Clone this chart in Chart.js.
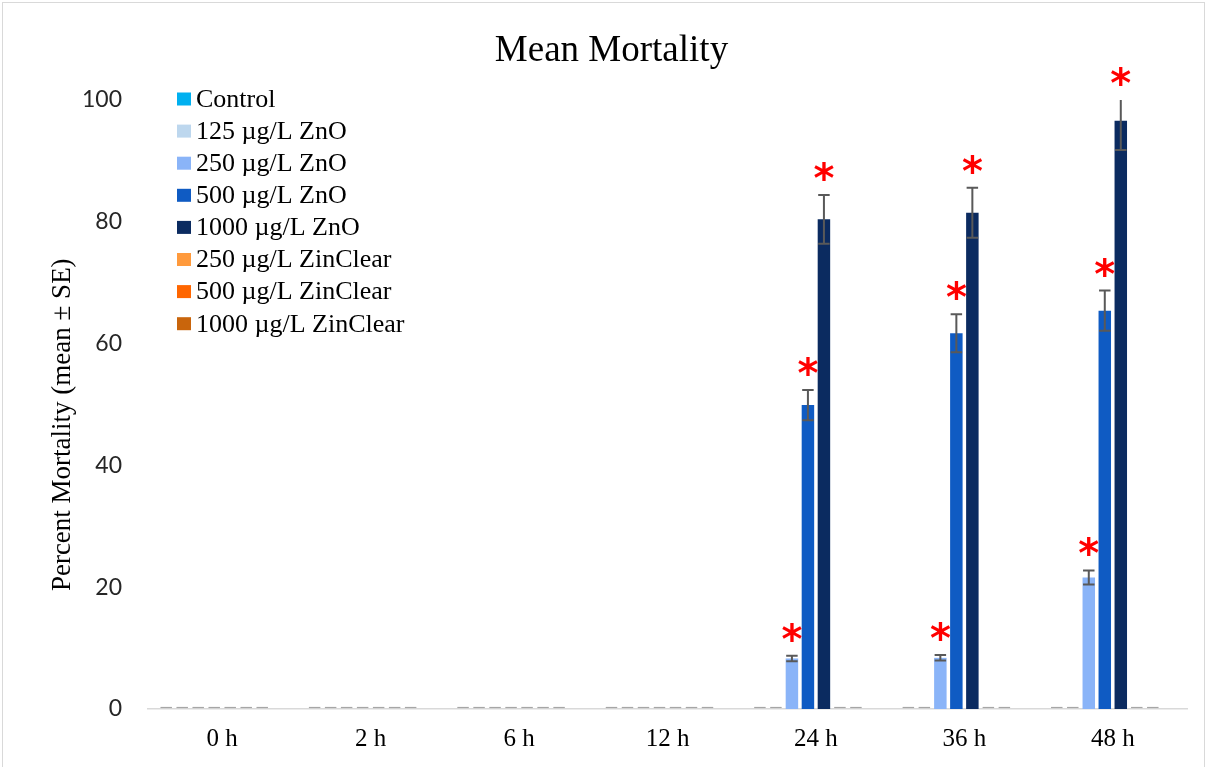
<!DOCTYPE html>
<html>
<head>
<meta charset="utf-8">
<title>Mean Mortality</title>
<script src="https://cdn.jsdelivr.net/npm/chart.js@4.4.1/dist/chart.umd.min.js"></script>
<style>
  html, body { margin: 0; padding: 0; background: #fff; }
  #wrap { width: 1207px; height: 767px; position: relative; }
</style>
</head>
<body>
<div id="wrap"><canvas id="mortality-chart"></canvas></div>
<script>
// exposure time points
const timepoints = ["0 h", "2 h", "6 h", "12 h", "24 h", "36 h", "48 h"];

const treatments = [
    "Control",
    "125 µg/L ZnO",
    "250 µg/L ZnO",
    "500 µg/L ZnO",
    "1000 µg/L ZnO",
    "250 µg/L ZinClear",
    "500 µg/L ZinClear",
    "1000 µg/L ZinClear",
];
const treatmentColors = ["#00b0f0", "#bdd7ee", "#8ab4f8", "#0f5bc3", "#0b2b60", "#ff9a3c", "#ff6600", "#c9650c"];

// mean percent mortality
const control = [0, 0, 0, 0, 0, 0, 0];
const zno125 = [0, 0, 0, 0, 0, 0, 0];
const zno250 = [0, 0, 0, 0, 8.3, 8.4, 21.6];
const zno500 = [0, 0, 0, 0, 49.9, 61.7, 65.4];
const zno1000 = [0, 0, 0, 0, 80.4, 81.5, 96.6];
const zc250 = [0, 0, 0, 0, 0, 0, 0];
const zc500 = [0, 0, 0, 0, 0, 0, 0];
const zc1000 = [0, 0, 0, 0, 0, 0, 0];

// standard errors (null = no error bar)
const seControl = [0, 0, 0, 0, 0, 0, 0];
const seZno125 = [0, 0, 0, 0, 0, 0, 0];
const seZno250 = [0, 0, 0, 0, 0.45, 0.45, 1.15];
const seZno500 = [0, 0, 0, 0, 2.5, 3.1, 3.3];
const seZno1000 = [0, 0, 0, 0, 4.0, 4.1, 4.8];
const seZc250 = [0, 0, 0, 0, 0, 0, 0];
const seZc500 = [0, 0, 0, 0, 0, 0, 0];
const seZc1000 = [null, null, null, null, null, null, null];

// significantly different from control
const none = [false, false, false, false, false, false, false];
const sigLate = [false, false, false, false, true, true, true];

const yTicks = [0, 20, 40, 60, 80, 100];

const means = [control, zno125, zno250, zno500, zno1000, zc250, zc500, zc1000];
const errors = [seControl, seZno125, seZno250, seZno500, seZno1000, seZc250, seZc500, seZc1000];
const stars = [none, none, sigLate, sigLate, sigLate, none, none, none];

const SERIF = "'Liberation Serif', 'Times New Roman', serif";

const frame = {
    id: "frame",
    beforeDraw(chart) {
        const { ctx, width, height } = chart;
        ctx.save();
        ctx.fillStyle = "#fff";
        ctx.fillRect(0, 0, width, height);
        ctx.strokeStyle = "#d9d9d9";
        ctx.lineWidth = 1;
        ctx.strokeRect(2.5, 2.5, width - 5, height + 10);
        ctx.restore();
    },
};

// error bars plus the red significance asterisks
const errorBars = {
    id: "errorBars",
    afterDatasetsDraw(chart) {
        const { ctx, chartArea } = chart;
        const y = chart.scales.y;
        ctx.save();
        chart.data.datasets.forEach((ds, di) => {
            const meta = chart.getDatasetMeta(di);
            meta.data.forEach((bar, i) => {
                const se = ds.se[i];
                if (se == null) return;
                const v = ds.data[i];
                const half = bar.width * 0.46;
                if (v === 0 && se === 0) {
                    const y0 = Math.round(y.getPixelForValue(0)) - 1.5;
                    ctx.strokeStyle = "#a6a6a6";
                    ctx.lineWidth = 1.2;
                    ctx.beginPath();
                    ctx.moveTo(bar.x - half, y0);
                    ctx.lineTo(bar.x + half, y0);
                    ctx.stroke();
                    return;
                }
                const rawTop = y.getPixelForValue(v + se);
                const top = Math.max(rawTop, chartArea.top);
                const bottom = y.getPixelForValue(v - se);
                ctx.strokeStyle = "#595959";
                ctx.lineWidth = 2;
                ctx.beginPath();
                ctx.moveTo(bar.x, top);
                ctx.lineTo(bar.x, bottom);
                if (rawTop >= chartArea.top) {
                    ctx.moveTo(bar.x - half, top);
                    ctx.lineTo(bar.x + half, top);
                }
                ctx.moveTo(bar.x - half, bottom);
                ctx.lineTo(bar.x + half, bottom);
                ctx.stroke();

                if (ds.sig[i]) {
                    ctx.font = "bold 40px 'DejaVu Sans'";
                    ctx.fillStyle = "#ff0000";
                    ctx.textAlign = "center";
                    ctx.textBaseline = "alphabetic";
                    const m = ctx.measureText("*");
                    ctx.fillText("*", bar.x, top - 14 - m.actualBoundingBoxDescent);
                }
            });
        });
        ctx.restore();
    },
};

// legend in the upper-left corner of the plot area
const cornerLegend = {
    id: "cornerLegend",
    afterDraw(chart) {
        const { ctx, chartArea } = chart;
        const x = chartArea.left + 29;
        ctx.save();
        ctx.font = "26px " + SERIF;
        ctx.textBaseline = "middle";
        ctx.textAlign = "left";
        chart.data.datasets.forEach((ds, i) => {
            const cy = chartArea.top - 1 + i * 32.1;
            ctx.fillStyle = ds.backgroundColor;
            ctx.fillRect(x, cy - 6.5, 14, 13);
            ctx.fillStyle = "#000";
            ctx.fillText(ds.label, x + 19, cy + 1);
        });
        ctx.restore();
    },
};

const ctx = document.getElementById("mortality-chart").getContext("2d");
new Chart(ctx, {
    type: "bar",
    data: {
        labels: timepoints,
        datasets: treatments.map((name, i) => ({
            label: name,
            data: means[i],
            se: errors[i],
            sig: stars[i],
            backgroundColor: treatmentColors[i],
            borderWidth: 0,
        })),
    },
    options: {
        responsive: true,
        maintainAspectRatio: false,
        animation: false,
        categoryPercentage: 0.8625,
        barPercentage: 0.78,
        layout: { padding: { left: 36, right: 20, top: 0, bottom: 0 } },
        plugins: {
            legend: { display: false },
            tooltip: { enabled: false },
            title: {
                display: true,
                text: "Mean Mortality",
                color: "#000",
                font: { family: SERIF, size: 37, weight: "normal" },
                padding: { top: 29.3, bottom: 26.3 },
            },
        },
        scales: {
            x: {
                grid: { display: false, drawTicks: false },
                border: { display: true, color: "#d9d9d9", width: 1.5 },
                ticks: { color: "#000", font: { family: SERIF, size: 25 }, padding: 15 },
                afterFit(scale) {
                    scale.height = 58;
                },
            },
            y: {
                min: 0,
                max: 100,
                afterBuildTicks(scale) {
                    scale.ticks = yTicks.map((v) => ({ value: v }));
                },
                grid: { display: false, drawTicks: false },
                border: { display: false },
                ticks: { color: "#262626", font: { family: "Lato", size: 23 }, padding: 26 },
                title: {
                    display: true,
                    text: "Percent Mortality (mean ± SE)      ",
                    color: "#000",
                    font: { family: SERIF, size: 27 },
                    padding: { top: 10.8, bottom: 0 },
                },
                afterFit(scale) {
                    scale.width = 112;
                },
            },
        },
    },
    plugins: [frame, errorBars, cornerLegend],
});
</script>
</body>
</html>
